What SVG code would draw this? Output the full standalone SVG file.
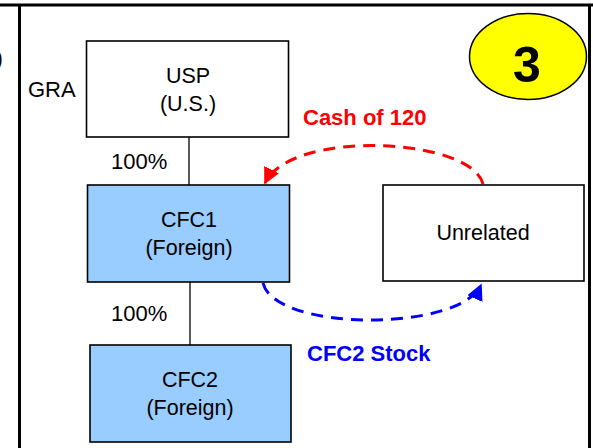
<svg xmlns="http://www.w3.org/2000/svg" width="593" height="448" viewBox="0 0 593 448">
  <style>
    .box { stroke: #000; stroke-width: 1.6; }
    .plain { fill: #fff; }
    .cfc { fill: #99ccff; }
    .lbl { font-family: "Liberation Sans", Arial, sans-serif; font-size: 21.5px; fill: #000; text-anchor: middle; }
    .pct { font-family: "Liberation Sans", Arial, sans-serif; font-size: 22px; fill: #000; }
    .flow { font-family: "Liberation Sans", Arial, sans-serif; font-size: 22px; font-weight: bold; }
    .frame { stroke: #000; stroke-width: 3; fill: none; }
    .own { stroke: #000; stroke-width: 1.3; }
    .dash { fill: none; stroke-width: 3; stroke-dasharray: 12 8; }
  </style>
  <defs>
    <marker id="headRed" viewBox="0 0 10 10" refX="9" refY="5" markerWidth="5.5" markerHeight="5.5" markerUnits="strokeWidth" orient="auto">
      <path d="M0,0 L10,5 L0,10 z" fill="#ff0000"/>
    </marker>
    <marker id="headBlue" viewBox="0 0 10 10" refX="9" refY="5" markerWidth="5.5" markerHeight="5.5" markerUnits="strokeWidth" orient="auto">
      <path d="M0,0 L10,5 L0,10 z" fill="#0000ff"/>
    </marker>
  </defs>

  <rect width="593" height="448" fill="#fff"/>

  <!-- panel frame, with the closing bracket of the neighbouring panel -->
  <g id="frame">
    <line class="frame" x1="0" y1="5" x2="593" y2="5"/>
    <line class="frame" x1="19.5" y1="5" x2="19.5" y2="448"/>
    <line class="frame" x1="589.5" y1="5" x2="589.5" y2="448"/>
    <text x="-5" y="66" font-family="Liberation Sans, Arial, sans-serif" font-size="24">)</text>
  </g>

  <!-- ownership lines and transfers -->
  <g id="connectors">
    <line class="own" x1="189" y1="137" x2="189" y2="185"/>
    <line class="own" x1="190" y1="282" x2="190" y2="345"/>
    <path class="dash" stroke="#ff0000" d="M483,184 C472,138 292,128 265,183" marker-end="url(#headRed)"/>
    <path class="dash" stroke="#0000ff" d="M263,283 C275,332 460,332 481,285" marker-end="url(#headBlue)"/>
  </g>

  <g id="label-gra">
    <text class="pct" x="28" y="97">GRA</text>
  </g>

  <g id="pct-usp-cfc1">
    <text class="pct" x="111" y="169">100%</text>
  </g>

  <g id="pct-cfc1-cfc2">
    <text class="pct" x="111" y="321">100%</text>
  </g>

  <g id="label-cash">
    <text class="flow" x="303" y="125" fill="#ff0000">Cash of 120</text>
  </g>

  <g id="label-stock">
    <text class="flow" x="307" y="361" fill="#0000ff">CFC2 Stock</text>
  </g>

  <g id="usp">
    <rect class="box plain" x="86.5" y="41" width="202" height="96"/>
    <text class="lbl" x="188" y="83">USP</text>
    <text class="lbl" x="188" y="111">(U.S.)</text>
  </g>

  <g id="cfc1">
    <rect class="box cfc" x="87.5" y="185" width="202" height="97"/>
    <text class="lbl" x="189" y="227">CFC1</text>
    <text class="lbl" x="189" y="255">(Foreign)</text>
  </g>

  <g id="unrelated">
    <rect class="box plain" x="383" y="185" width="201" height="96"/>
    <text class="lbl" x="483" y="240">Unrelated</text>
  </g>

  <g id="cfc2">
    <rect class="box cfc" x="90" y="345" width="201" height="97"/>
    <text class="lbl" x="190" y="387">CFC2</text>
    <text class="lbl" x="190" y="415">(Foreign)</text>
  </g>

  <g id="step-badge">
    <ellipse cx="528" cy="56.5" rx="58.5" ry="43" fill="#ffff00" stroke="#000" stroke-width="1.5"/>
    <text x="527" y="82" text-anchor="middle" font-family="Liberation Sans, Arial, sans-serif" font-size="50" font-weight="bold">3</text>
  </g>
</svg>
